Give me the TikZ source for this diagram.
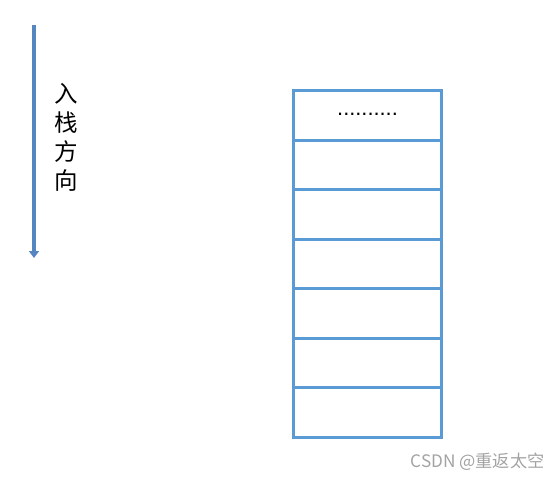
\documentclass[tikz,border=0pt]{standalone}
\usepackage{fontspec}
\newfontfamily\cjkfont{Noto Sans CJK SC}
\setmainfont{Liberation Sans}
\usetikzlibrary{arrows.meta,positioning}
\definecolor{cellblue}{HTML}{5B9BD5}
\definecolor{arrowblue}{HTML}{5686BF}
\definecolor{wmgray}{HTML}{A3A3A3}
\tikzset{
  cell/.style={draw=cellblue, line width=3pt, minimum width=147.5pt, minimum height=49.5pt, inner sep=0pt, outer sep=0pt, anchor=north},
  dirarrow/.style={draw=arrowblue, line width=4pt, -{Triangle[width=10pt,length=7pt]}},
  dirtext/.style={font=\cjkfont\fontsize{23.5pt}{29pt}\selectfont, align=center, inner sep=0pt},
  watermark/.style={font=\cjkfont\fontsize{17.2pt}{18pt}\selectfont, text=wmgray, inner sep=0pt}
}
\begin{document}
\begin{tikzpicture}[x=1pt,y=-1pt]
\useasboundingbox (0,0) rectangle (560,480);
% direction arrow
\coordinate (arrtop) at (34,25);
\coordinate (arrbot) at (34,258);
\draw[dirarrow] (arrtop) -- (arrbot);
\node[dirtext] (dir) at (66,137) {入\\栈\\方\\向};
% stack cells
\node[cell] (c1) at (367.5,90.7) {\fontsize{21.8pt}{22pt}\selectfont\raisebox{3pt}{..........}};
\node[cell] (c2) at (c1.south) {};
\node[cell] (c3) at (c2.south) {};
\node[cell] (c4) at (c3.south) {};
\node[cell] (c5) at (c4.south) {};
\node[cell] (c6) at (c5.south) {};
\node[cell] (c7) at (c6.south) {};
% watermark
\node[watermark] (wm) at (477.5,462) {CSDN @重返太空};
\end{tikzpicture}
\end{document}
